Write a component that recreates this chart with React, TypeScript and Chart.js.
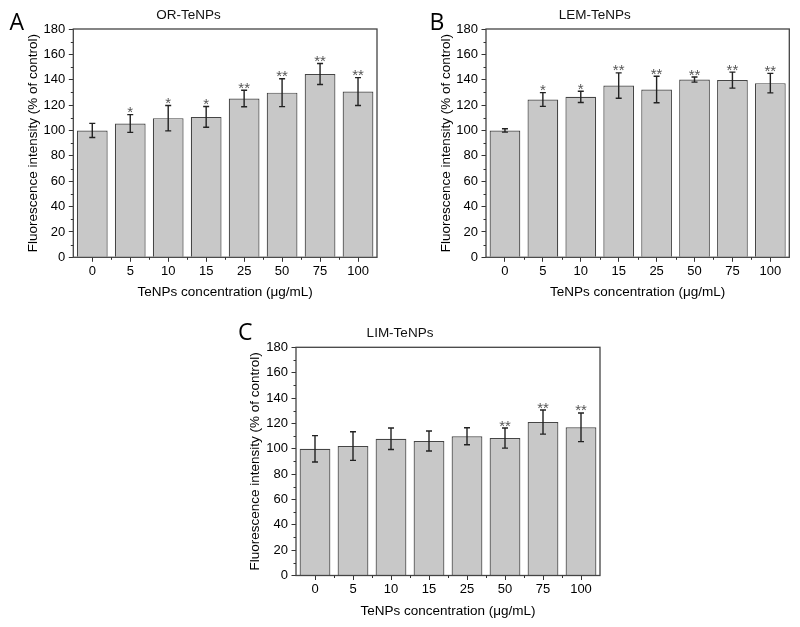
import React, { useEffect, useRef } from 'react';
import { Chart, registerables } from 'chart.js';

Chart.register(...registerables);

// ---------- data ----------
const concentrations = ['0', '5', '10', '15', '25', '50', '75', '100'];

const orValues = [100, 105.5, 109.7, 110.7, 125.2, 129.8, 144.5, 130.7];
const orErrors = [5.6, 7, 10, 8.2, 6.5, 11, 8.3, 11];
const orMarks = ['', '*', '*', '*', '**', '**', '**', '**'];

const lemValues = [100, 124.4, 126.5, 135.4, 132.3, 140.1, 139.7, 137.3];
const lemErrors = [1.3, 5.4, 4.4, 10, 10.4, 2, 6.3, 7.7];
const lemMarks = ['', '*', '*', '**', '**', '**', '**', '**'];

const limValues = [99.9, 102.1, 107.9, 106.1, 109.8, 108.4, 121, 116.9];
const limErrors = [10.4, 11.3, 8.5, 7.9, 6.7, 7.9, 9.5, 11.3];
const limMarks = ['', '', '', '', '', '**', '**', '**'];

const yMin = 0;
const yMax = 180;
const yStep = 20;

const xAxisTitle = 'TeNPs concentration (μg/mL)';
const yAxisTitle = 'Fluorescence intensity (% of control)';

// ---------- layout ----------
const FONT = '"Liberation Sans", Arial, sans-serif';
const LETTER_FONT = '"Open Sans", "DejaVu Sans", sans-serif';

type Spec = {
  letter: string;
  title: string;
  values: number[];
  errors: number[];
  marks: string[];
  left: number; top: number; w: number; h: number;
  pl: number; pt: number; pr: number; pb: number;
  titleY: number; xTitleY: number; yTitleX: number;
  letterX: number; letterY: number;
};

const panels: Spec[] = [
  {
    letter: 'A', title: 'OR-TeNPs', values: orValues, errors: orErrors, marks: orMarks,
    left: 0, top: 0, w: 400, h: 305,
    pl: 73.3, pt: 29, pr: 377, pb: 257.3,
    titleY: 15, xTitleY: 292, yTitleX: 32.8,
    letterX: 9.5, letterY: 30,
  },
  {
    letter: 'B', title: 'LEM-TeNPs', values: lemValues, errors: lemErrors, marks: lemMarks,
    left: 400, top: 0, w: 400, h: 305,
    pl: 86, pt: 29, pr: 389.3, pb: 257.3,
    titleY: 15, xTitleY: 292, yTitleX: 46,
    letterX: 29.5, letterY: 30,
  },
  {
    letter: 'C', title: 'LIM-TeNPs', values: limValues, errors: limErrors, marks: limMarks,
    left: 200, top: 310, w: 420, h: 317,
    pl: 96, pt: 37.3, pr: 400, pb: 265.5,
    titleY: 23.3, xTitleY: 301, yTitleX: 55.5,
    letterX: 38, letterY: 30.3,
  },
];

const TITLE_SIZE = 13.5;
const TITLE_LH = TITLE_SIZE * 1.2;

const decorPlugin = {
  id: 'decor',
  afterDatasetsDraw(chart: any, _args: any, opts: any) {
    const ctx = chart.ctx as CanvasRenderingContext2D;
    const xs = chart.scales.x;
    const ys = chart.scales.y;
    const a = chart.chartArea;
    ctx.save();

    // error bars
    ctx.strokeStyle = '#222';
    ctx.lineWidth = 1.4;
    const vals: number[] = opts.values;
    const errs: number[] = opts.errors;
    const marks: string[] = opts.marks;
    vals.forEach((v, i) => {
      const xc = xs.getPixelForValue(i);
      const yt = ys.getPixelForValue(v + errs[i]);
      const yb = ys.getPixelForValue(v - errs[i]);
      ctx.beginPath();
      ctx.moveTo(xc, yt);
      ctx.lineTo(xc, yb);
      ctx.moveTo(xc - 3, yt);
      ctx.lineTo(xc + 3, yt);
      ctx.moveTo(xc - 3, yb);
      ctx.lineTo(xc + 3, yb);
      ctx.stroke();
      if (marks[i]) {
        ctx.fillStyle = '#555';
        ctx.font = `15px ${FONT}`;
        ctx.textAlign = 'center';
        ctx.textBaseline = 'alphabetic';
        ctx.fillText(marks[i], xc, yt + 2.5);
      }
    });

    // frame
    ctx.strokeStyle = '#444';
    ctx.lineWidth = 1.3;
    ctx.strokeRect(a.left, a.top, a.right - a.left, a.bottom - a.top);

    // minor ticks
    ctx.strokeStyle = '#333';
    ctx.lineWidth = 1;
    ctx.beginPath();
    for (let v = yMin + yStep / 2; v < yMax; v += yStep) {
      const py = Math.round(ys.getPixelForValue(v)) + 0.5;
      ctx.moveTo(a.left - 2.5, py);
      ctx.lineTo(a.left, py);
    }
    for (let i = 0; i < vals.length - 1; i++) {
      const px = Math.round((xs.getPixelForValue(i) + xs.getPixelForValue(i + 1)) / 2) + 0.5;
      ctx.moveTo(px, a.bottom);
      ctx.lineTo(px, a.bottom + 2.5);
    }
    ctx.stroke();

    // panel letter
    ctx.fillStyle = '#000';
    ctx.font = `23px ${LETTER_FONT}`;
    ctx.textAlign = 'left';
    ctx.textBaseline = 'alphabetic';
    ctx.fillText(opts.letter, opts.letterX, opts.letterY);

    ctx.restore();
  },
};

function Panel({ spec }: { spec: Spec }) {
  const ref = useRef<HTMLCanvasElement>(null);
  useEffect(() => {
    const canvas = ref.current;
    if (!canvas) return;
    const chart = new Chart(canvas, {
      type: 'bar',
      data: {
        labels: concentrations,
        datasets: [
          {
            data: spec.values,
            backgroundColor: '#c8c8c8',
            borderColor: '#454545',
            borderWidth: 1.2,
            categoryPercentage: 1,
            barPercentage: 0.81,
          },
        ],
      },
      options: {
        animation: false,
        responsive: false,
        events: [],
        layout: { padding: { left: 0, top: 0, bottom: 0, right: spec.w - spec.pr } },
        plugins: {
          legend: { display: false },
          tooltip: { enabled: false },
          title: {
            display: true,
            text: spec.title,
            color: '#111',
            font: { family: FONT, size: TITLE_SIZE, weight: 'normal', lineHeight: 1.2 },
            padding: {
              top: spec.titleY - TITLE_LH / 2,
              bottom: spec.pt - spec.titleY - TITLE_LH / 2,
            },
          },
          decor: {
            values: spec.values,
            errors: spec.errors,
            marks: spec.marks,
            letter: spec.letter,
            letterX: spec.letterX,
            letterY: spec.letterY,
          },
        } as any,
        scales: {
          x: {
            type: 'category',
            offset: true,
            afterFit: (scale: any) => { scale.height = spec.h - spec.pb; },
            grid: {
              display: true,
              offset: false,
              drawOnChartArea: false,
              drawTicks: true,
              tickLength: 4.5,
              color: '#333',
            },
            border: { display: false },
            ticks: {
              color: '#000',
              padding: 2,
              maxRotation: 0,
              font: { family: FONT, size: 13 },
            },
            title: {
              display: true,
              text: xAxisTitle,
              color: '#000',
              font: { family: FONT, size: TITLE_SIZE, lineHeight: 1.2 },
              padding: { top: 0, bottom: spec.h - spec.xTitleY - TITLE_LH / 2 },
            },
          },
          y: {
            type: 'linear',
            min: yMin,
            max: yMax,
            afterFit: (scale: any) => { scale.width = spec.pl; },
            grid: {
              display: true,
              drawOnChartArea: false,
              drawTicks: true,
              tickLength: 4.5,
              color: '#333',
            },
            border: { display: false },
            ticks: {
              stepSize: yStep,
              color: '#000',
              padding: 3.5,
              font: { family: FONT, size: 13 },
            },
            title: {
              display: true,
              text: yAxisTitle,
              color: '#000',
              font: { family: FONT, size: TITLE_SIZE, lineHeight: 1.2 },
              padding: { top: spec.yTitleX - TITLE_LH / 2, bottom: 0 },
            },
          },
        },
      } as any,
      plugins: [decorPlugin],
    });
    return () => chart.destroy();
  }, [spec]);
  return (
    <canvas
      ref={ref}
      width={spec.w}
      height={spec.h}
      style={{ position: 'absolute', left: spec.left, top: spec.top, width: spec.w, height: spec.h }}
    />
  );
}

export default function App() {
  return (
    <div style={{ position: 'absolute', left: 0, top: 0, width: 800, height: 627, background: '#fff', overflow: 'hidden' }}>
      {panels.map((p) => (
        <Panel key={p.letter} spec={p} />
      ))}
    </div>
  );
}
